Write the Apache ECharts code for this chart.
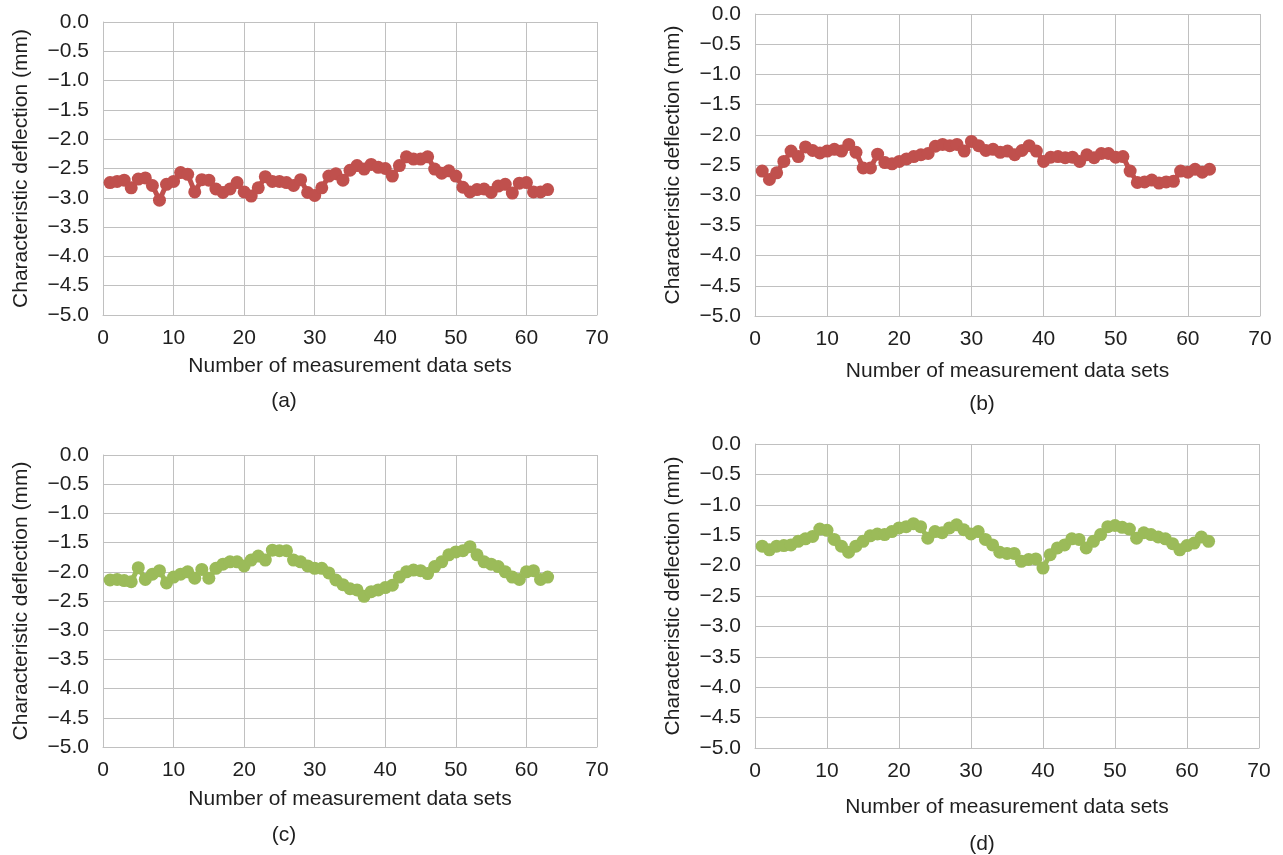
<!DOCTYPE html>
<html>
<head>
<meta charset="utf-8">
<script src="https://cdn.jsdelivr.net/npm/echarts@6/dist/echarts.min.js"></script>
<style>
  html, body { margin: 0; padding: 0; background: #fff; }
  #chart { width: 1283px; height: 855px; }
</style>
</head>
<body>
<div id="chart"></div>
<script>
// measurement index 1..63
const setIndex = Array.from({ length: 63 }, (_, i) => i + 1)

// characteristic deflection (mm)
const deflA = [
  -2.74, -2.72, -2.70, -2.83, -2.68, -2.66, -2.79, -3.04, -2.77, -2.72,
  -2.57, -2.60, -2.90, -2.69, -2.70, -2.85, -2.91, -2.85, -2.74, -2.90,
  -2.97, -2.83, -2.64, -2.72, -2.72, -2.74, -2.79, -2.69, -2.91, -2.96,
  -2.83, -2.63, -2.59, -2.70, -2.53, -2.45, -2.51, -2.43, -2.48, -2.50,
  -2.63, -2.45, -2.30, -2.34, -2.34, -2.30, -2.51, -2.58, -2.54, -2.63,
  -2.82, -2.90, -2.86, -2.85, -2.91, -2.80, -2.77, -2.92, -2.75, -2.74,
  -2.90, -2.90, -2.86
]
const deflB = [
  -2.60, -2.74, -2.63, -2.44, -2.27, -2.36, -2.20, -2.26, -2.30, -2.27,
  -2.24, -2.27, -2.16, -2.29, -2.55, -2.55, -2.32, -2.46, -2.48, -2.44,
  -2.40, -2.36, -2.33, -2.31, -2.19, -2.16, -2.18, -2.16, -2.27, -2.11,
  -2.18, -2.26, -2.24, -2.29, -2.27, -2.33, -2.26, -2.18, -2.27, -2.44,
  -2.37, -2.36, -2.38, -2.37, -2.44, -2.33, -2.38, -2.31, -2.31, -2.37,
  -2.36, -2.60, -2.79, -2.78, -2.75, -2.80, -2.78, -2.77, -2.60, -2.62,
  -2.57, -2.62, -2.57
]
const deflC = [
  -2.14, -2.13, -2.15, -2.17, -1.93, -2.13, -2.04, -1.98, -2.19, -2.09,
  -2.04, -2.00, -2.11, -1.96, -2.11, -1.94, -1.87, -1.83, -1.83, -1.90,
  -1.80, -1.73, -1.80, -1.63, -1.64, -1.64, -1.80, -1.83, -1.90, -1.94,
  -1.94, -2.02, -2.14, -2.22, -2.29, -2.31, -2.42, -2.34, -2.31, -2.27,
  -2.23, -2.09, -2.00, -1.97, -1.98, -2.03, -1.91, -1.83, -1.71, -1.66,
  -1.64, -1.57, -1.71, -1.83, -1.87, -1.91, -2.00, -2.09, -2.13, -2.00,
  -1.98, -2.13, -2.09
]
const deflD = [
  -1.68, -1.74, -1.68, -1.67, -1.66, -1.60, -1.56, -1.52, -1.40, -1.42,
  -1.57, -1.68, -1.78, -1.68, -1.60, -1.51, -1.48, -1.49, -1.44, -1.38,
  -1.36, -1.31, -1.36, -1.55, -1.44, -1.46, -1.38, -1.33, -1.41, -1.48,
  -1.44, -1.57, -1.66, -1.78, -1.80, -1.80, -1.93, -1.90, -1.89, -2.04,
  -1.82, -1.71, -1.66, -1.56, -1.57, -1.71, -1.60, -1.49, -1.36, -1.34,
  -1.37, -1.40, -1.55, -1.46, -1.49, -1.53, -1.56, -1.64, -1.74, -1.67,
  -1.63, -1.53, -1.60
]

const panelLabels = ['(a)', '(b)', '(c)', '(d)']
const xTitle = 'Number of measurement data sets'
const yTitle = 'Characteristic deflection (mm)'

const RED = '#c0504d'
const GREEN = '#9bbb59'
const FONT = '"Liberation Sans", Arial, sans-serif'
const TEXT = '#1f1f1f'
const GRIDLINE = '#c0c0c0'
const FS = 21

// plot boxes and title positions for each panel
const panels = [
  { data: deflA, color: RED,   left: 103, top: 22,  w: 494, h: 293, xGap: 41, yGap: 71, tag: [284, 401] },
  { data: deflB, color: RED,   left: 755, top: 14,  w: 505, h: 302, xGap: 45, yGap: 71, tag: [982, 404] },
  { data: deflC, color: GREEN, left: 103, top: 455, w: 494, h: 292, xGap: 42, yGap: 71, tag: [284, 835] },
  { data: deflD, color: GREEN, left: 755, top: 444, w: 504, h: 304, xGap: 49, yGap: 71, tag: [982, 844] }
]

const fmtY = (v) => (v === 0 ? '0.0' : v.toFixed(1).replace('-', '\u2212'))

const chart = echarts.init(document.getElementById('chart'))

const option = {
  animation: false,
  backgroundColor: '#fff',
  textStyle: { fontFamily: FONT },
  grid: panels.map((p) => ({ left: p.left, top: p.top, width: p.w, height: p.h, containLabel: false })),
  xAxis: panels.map((p, i) => ({
    gridIndex: i,
    type: 'value',
    min: 0,
    max: 70,
    interval: 10,
    name: xTitle,
    nameLocation: 'middle',
    nameGap: p.xGap,
    nameTextStyle: { fontSize: FS, color: TEXT, fontFamily: FONT },
    axisLine: { show: true, onZero: false, lineStyle: { color: GRIDLINE, width: 1 } },
    axisTick: { show: false },
    axisLabel: { fontSize: FS, color: TEXT, margin: 13, fontFamily: FONT },
    splitLine: { show: true, lineStyle: { color: GRIDLINE, width: 1 } }
  })),
  yAxis: panels.map((p, i) => ({
    gridIndex: i,
    type: 'value',
    min: -5,
    max: 0,
    interval: 0.5,
    name: yTitle,
    nameLocation: 'middle',
    nameGap: p.yGap,
    nameTextStyle: { fontSize: FS, color: TEXT, fontFamily: FONT },
    axisLine: { show: true, lineStyle: { color: GRIDLINE, width: 1 } },
    axisTick: { show: false },
    axisLabel: { fontSize: FS, color: TEXT, margin: 14, formatter: fmtY, fontFamily: FONT },
    splitLine: { show: true, lineStyle: { color: GRIDLINE, width: 1 } }
  })),
  series: panels.map((p, i) => ({
    type: 'line',
    xAxisIndex: i,
    yAxisIndex: i,
    data: p.data.map((v, k) => [setIndex[k], v]),
    symbol: 'circle',
    symbolSize: 13,
    showAllSymbol: true,
    itemStyle: { color: p.color },
    lineStyle: { color: p.color, width: 5 }
  })),
  graphic: panels.map((p, i) => ({
    type: 'text',
    x: p.tag[0],
    y: p.tag[1],
    style: {
      text: panelLabels[i],
      fontSize: FS,
      fill: TEXT,
      fontFamily: FONT,
      align: 'center',
      verticalAlign: 'middle'
    }
  }))
}

chart.setOption(option)
</script>
</body>
</html>
